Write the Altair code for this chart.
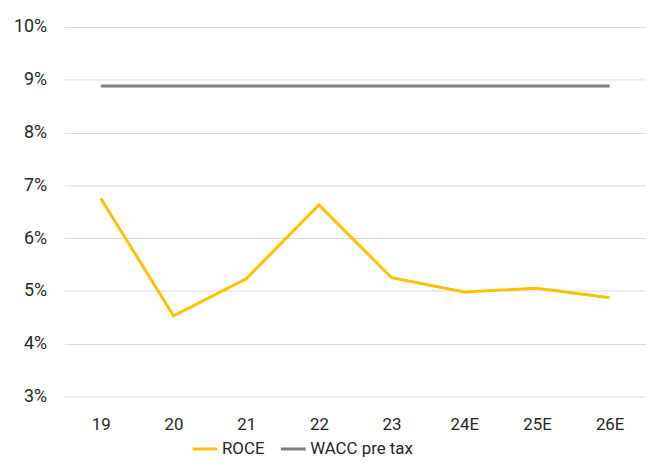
import altair as alt
import pandas as pd

years = ["19", "20", "21", "22", "23", "24E", "25E", "26E"]
roce = [6.75, 4.53, 5.23, 6.63, 5.25, 4.98, 5.05, 4.87]
wacc = [8.88] * 8
series_names = ["ROCE", "WACC pre tax"]
series_colors = ["#FFC000", "#7F7F7F"]

rows = []
for y, v in zip(years, roce):
    rows.append({"year": y, "value": v / 100, "series": "ROCE"})
for y, v in zip(years, wacc):
    rows.append({"year": y, "value": v / 100, "series": "WACC pre tax"})
df = pd.DataFrame(rows)

FONT = "Roboto"

chart = (
    alt.Chart(df)
    .mark_line(strokeWidth=3)
    .encode(
        x=alt.X(
            "year:N",
            sort=years,
            title=None,
            scale=alt.Scale(type="point", padding=0.5),
            axis=alt.Axis(
                labelAngle=0, domain=False, ticks=False, grid=False,
                labelPadding=20, labelFontSize=17, labelColor="#262626", labelFont=FONT,
            ),
        ),
        y=alt.Y(
            "value:Q",
            title=None,
            scale=alt.Scale(domain=[0.03, 0.10], nice=False, zero=False),
            axis=alt.Axis(
                format=".0%", values=[0.03, 0.04, 0.05, 0.06, 0.07, 0.08, 0.09, 0.10],
                domain=False, ticks=False, gridColor="#D9D9D9", gridWidth=1,
                labelPadding=18, labelFontSize=18, labelColor="#262626", labelFont=FONT,
            ),
        ),
        color=alt.Color(
            "series:N",
            scale=alt.Scale(domain=series_names, range=series_colors),
            legend=alt.Legend(
                title=None, orient="none", direction="horizontal",
                legendX=128, legendY=412,
                symbolType="stroke", symbolSize=625, symbolStrokeWidth=3,
                labelFontSize=17, labelColor="#262626", labelFont=FONT,
                labelOffset=3, columnPadding=10,
            ),
        ),
    )
    .properties(
        width=587, height=373,
        autosize=alt.AutoSizeParams(type="none"),
        padding={"left": 57, "top": 17, "right": 0, "bottom": 62},
    )
    .configure(background="white")
    .configure_axis(domain=False)
    .configure_view(strokeWidth=0)
)

chart.save("out.html", embed_options={"renderer": "svg", "actions": False})
